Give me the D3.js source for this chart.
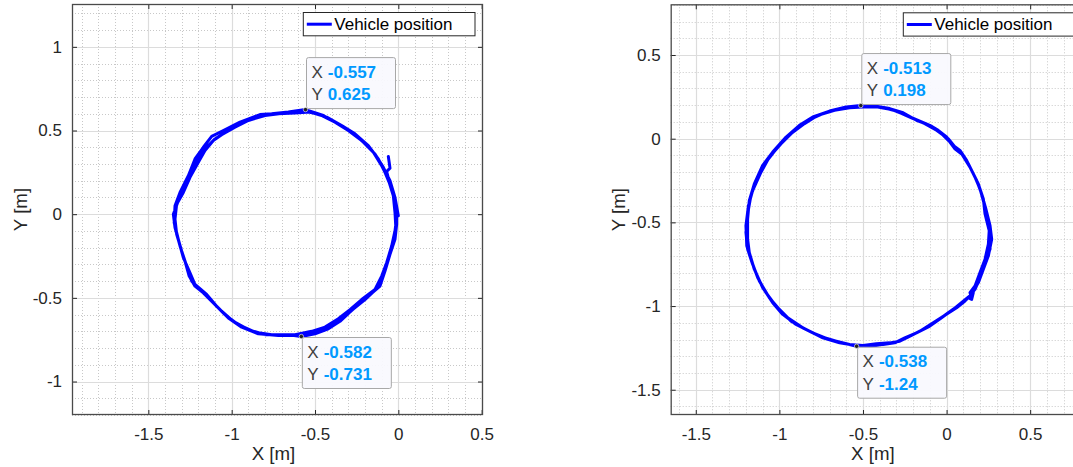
<!DOCTYPE html>
<html>
<head>
<meta charset="utf-8">
<script src="https://cdn.jsdelivr.net/npm/d3@7"></script>
<style>
  html, body { margin: 0; padding: 0; background: #fff; overflow: hidden; }
  svg { display: block; font-family: "Liberation Sans", Arial, Helvetica, sans-serif; }
</style>
</head>
<body>
<svg id="fig" width="1073" height="467"></svg>
<script>
// ---- Run 1: recorded vehicle positions [x, y] in metres ----
const run1Track = [
  [0.00, -0.01], [-0.02, 0.10], [-0.05, 0.20], [-0.09, 0.28], [-0.14, 0.36], [-0.21, 0.43],
  [-0.28, 0.49], [-0.36, 0.54], [-0.45, 0.59], [-0.557, 0.625], [-0.66, 0.61], [-0.76, 0.60],
  [-0.83, 0.595], [-0.95, 0.55], [-1.05, 0.50], [-1.12, 0.465], [-1.17, 0.40], [-1.22, 0.33],
  [-1.26, 0.23], [-1.31, 0.13], [-1.34, 0.05], [-1.345, -0.05], [-1.32, -0.15], [-1.29, -0.26],
  [-1.25, -0.35], [-1.22, -0.42], [-1.15, -0.48], [-1.09, -0.55], [-1.02, -0.62], [-0.94, -0.675],
  [-0.84, -0.715], [-0.72, -0.725], [-0.60, -0.725], [-0.48, -0.70], [-0.40, -0.665], [-0.32, -0.61],
  [-0.25, -0.55], [-0.18, -0.49], [-0.11, -0.43], [-0.08, -0.34], [-0.05, -0.24], [-0.02, -0.15],
  [-0.01, -0.06], [-0.01, 0.02],
  [-0.03, 0.12], [-0.06, 0.21], [-0.10, 0.29], [-0.15, 0.37], [-0.22, 0.44], [-0.30, 0.50],
  [-0.38, 0.55], [-0.47, 0.595], [-0.56, 0.615], [-0.68, 0.605], [-0.80, 0.59], [-0.90, 0.56],
  [-0.98, 0.52], [-1.06, 0.475], [-1.11, 0.44], [-1.16, 0.38], [-1.20, 0.31], [-1.25, 0.22],
  [-1.29, 0.13], [-1.33, 0.06], [-1.34, -0.03], [-1.33, -0.12], [-1.30, -0.22], [-1.27, -0.31],
  [-1.24, -0.40], [-1.19, -0.45], [-1.13, -0.51], [-1.06, -0.58], [-0.99, -0.64], [-0.90, -0.69],
  [-0.80, -0.72], [-0.66, -0.72], [-0.582, -0.731], [-0.50, -0.715], [-0.42, -0.685], [-0.35, -0.64],
  [-0.28, -0.575], [-0.20, -0.51], [-0.13, -0.445], [-0.09, -0.36], [-0.06, -0.27], [-0.03, -0.17],
  [-0.015, -0.08], [-0.02, 0.01],
  [-0.03, 0.11], [-0.055, 0.19], [-0.08, 0.25], [-0.12, 0.33], [-0.18, 0.41], [-0.26, 0.48],
  [-0.34, 0.53], [-0.43, 0.58], [-0.53, 0.61], [-0.62, 0.605], [-0.72, 0.60], [-0.84, 0.585],
  [-0.94, 0.545], [-1.04, 0.49], [-1.10, 0.45], [-1.15, 0.40], [-1.21, 0.32], [-1.24, 0.25],
  [-1.28, 0.16], [-1.32, 0.08], [-1.35, 0.00], [-1.34, -0.08], [-1.31, -0.19], [-1.28, -0.28],
  [-1.255, -0.37], [-1.22, -0.43], [-1.17, -0.47], [-1.11, -0.53], [-1.04, -0.60], [-0.96, -0.66],
  [-0.86, -0.705], [-0.76, -0.72], [-0.62, -0.72], [-0.52, -0.70], [-0.44, -0.675], [-0.36, -0.625],
  [-0.29, -0.57], [-0.22, -0.51], [-0.14, -0.45], [-0.10, -0.37], [-0.07, -0.29], [-0.04, -0.19],
  [-0.02, -0.10], [-0.01, -0.02], [-0.02, 0.08], [-0.05, 0.18], [-0.07, 0.255], [-0.05, 0.275],
  [-0.055, 0.31], [-0.06, 0.345]
];

// ---- Run 2: recorded vehicle positions [x, y] in metres ----
const run2Track = [
  [0.15, -0.955], [0.14, -0.92], [0.17, -0.88], [0.20, -0.80], [0.23, -0.72], [0.25, -0.63],
  [0.255, -0.55], [0.23, -0.45], [0.22, -0.36], [0.19, -0.27], [0.16, -0.21], [0.12, -0.13],
  [0.08, -0.07], [0.04, -0.04], [0.00, 0.01], [-0.05, 0.05], [-0.10, 0.08], [-0.18, 0.11],
  [-0.26, 0.155], [-0.34, 0.18], [-0.43, 0.195], [-0.513, 0.198], [-0.60, 0.19], [-0.70, 0.165],
  [-0.80, 0.13], [-0.88, 0.08], [-0.96, 0.01], [-1.04, -0.08], [-1.10, -0.16], [-1.15, -0.27],
  [-1.18, -0.37], [-1.19, -0.48], [-1.19, -0.60], [-1.18, -0.68], [-1.15, -0.78], [-1.10, -0.89],
  [-1.04, -0.98], [-0.98, -1.05], [-0.90, -1.11], [-0.80, -1.16], [-0.70, -1.20], [-0.60, -1.225],
  [-0.538, -1.24], [-0.46, -1.235], [-0.38, -1.23], [-0.31, -1.22], [-0.25, -1.19], [-0.18, -1.16],
  [-0.10, -1.12], [-0.03, -1.07], [0.04, -1.02], [0.10, -0.97], [0.15, -0.93],
  [0.19, -0.86], [0.22, -0.78], [0.25, -0.70], [0.27, -0.60], [0.26, -0.52], [0.235, -0.42],
  [0.21, -0.33], [0.18, -0.25], [0.14, -0.17], [0.09, -0.09], [0.05, -0.05], [0.01, 0.00],
  [-0.06, 0.05], [-0.13, 0.09], [-0.21, 0.125], [-0.30, 0.165], [-0.40, 0.19], [-0.48, 0.195],
  [-0.56, 0.19], [-0.65, 0.175], [-0.74, 0.15], [-0.83, 0.11], [-0.91, 0.05], [-0.99, -0.03],
  [-1.06, -0.11], [-1.11, -0.20], [-1.16, -0.31], [-1.185, -0.40], [-1.20, -0.52], [-1.195, -0.64],
  [-1.17, -0.72], [-1.13, -0.83], [-1.08, -0.92], [-1.02, -1.00], [-0.95, -1.07], [-0.86, -1.13],
  [-0.76, -1.18], [-0.66, -1.21], [-0.58, -1.23], [-0.50, -1.235], [-0.42, -1.225], [-0.34, -1.22],
  [-0.28, -1.21], [-0.21, -1.175], [-0.14, -1.14], [-0.06, -1.09], [0.01, -1.04], [0.08, -0.99],
  [0.13, -0.95], [0.17, -0.90],
  [0.20, -0.83], [0.23, -0.75], [0.26, -0.66], [0.265, -0.57], [0.245, -0.48], [0.225, -0.39],
  [0.20, -0.30], [0.17, -0.23], [0.13, -0.15], [0.10, -0.10], [0.05, -0.06], [0.02, -0.02],
  [-0.03, 0.03], [-0.09, 0.075], [-0.16, 0.105], [-0.24, 0.14], [-0.33, 0.175], [-0.42, 0.19],
  [-0.50, 0.19], [-0.58, 0.185], [-0.67, 0.17], [-0.77, 0.14], [-0.85, 0.09], [-0.93, 0.03],
  [-1.01, -0.05], [-1.08, -0.14], [-1.13, -0.23], [-1.17, -0.34], [-1.19, -0.45], [-1.20, -0.56],
  [-1.19, -0.66], [-1.16, -0.75], [-1.12, -0.85], [-1.06, -0.95], [-1.00, -1.02], [-0.93, -1.09],
  [-0.84, -1.14], [-0.74, -1.19], [-0.64, -1.22], [-0.55, -1.235], [-0.45, -1.24], [-0.36, -1.225],
  [-0.30, -1.215], [-0.23, -1.185], [-0.16, -1.15], [-0.08, -1.10], [-0.01, -1.055], [0.06, -1.01],
  [0.11, -0.97], [0.14, -0.94], [0.16, -0.92], [0.15, -0.96], [0.13, -0.95]
];

// ---- Axis limits and tick labels ----
const xTicks = [-1.5, -1, -0.5, 0, 0.5];
const run1YTicks = [-1, -0.5, 0, 0.5, 1];
const run2YTicks = [-1.5, -1, -0.5, 0, 0.5];
const run1XLim = [-1.958, 0.508];
const run1YLim = [-1.200, 1.256];
const run2XLim = [-1.650, 0.816];
const run2YLim = [-1.651, 0.803];

// ---- Data tips: [x, y, placement] ----
const run1Tips = [[-0.557, 0.625, "above"], [-0.582, -0.731, "below"]];
const run2Tips = [[-0.513, 0.198, "above"], [-0.538, -1.24, "below"]];

const legendLabel = "Vehicle position";
const tipValueFormat = v => d3.format(".3~g")(v).replace("\u2212", "-");

const svg = d3.select("#fig");
const AXIS_COLOR = "#262626";
const TRACK_WIDTH = 3;

function drawPanel(opts) {
  const { left, right, top, bottom, xLim, yLim, yTicks, track, tips, clipId, yLabelX } = opts;
  const x = d3.scaleLinear().domain(xLim).range([left, right]);
  const y = d3.scaleLinear().domain(yLim).range([bottom, top]);
  const g = svg.append("g");

  g.append("rect").attr("x", left).attr("y", top)
    .attr("width", right - left).attr("height", bottom - top).attr("fill", "#fff");

  // minor grid (dotted, every 0.1 m)
  const minorX = d3.range(Math.ceil(xLim[0] * 10), Math.floor(xLim[1] * 10) + 1)
    .filter(v => v % 5 !== 0).map(v => v / 10);
  const minorY = d3.range(Math.ceil(yLim[0] * 10), Math.floor(yLim[1] * 10) + 1)
    .filter(v => v % 5 !== 0).map(v => v / 10);
  const minor = g.append("g").attr("stroke", "#c8c8c8").attr("stroke-width", 1)
    .attr("stroke-dasharray", "1,2");
  minor.selectAll(".mx").data(minorX).join("line")
    .attr("x1", d => Math.round(x(d)) + 0.5).attr("x2", d => Math.round(x(d)) + 0.5)
    .attr("y1", top).attr("y2", bottom);
  minor.selectAll(".my").data(minorY).join("line")
    .attr("y1", d => Math.round(y(d)) + 0.5).attr("y2", d => Math.round(y(d)) + 0.5)
    .attr("x1", left).attr("x2", right);

  // major grid
  const major = g.append("g").attr("stroke", "#dcdcdc").attr("stroke-width", 1.2);
  major.selectAll(".gx").data(xTicks).join("line")
    .attr("x1", d => Math.round(x(d)) + 0.5).attr("x2", d => Math.round(x(d)) + 0.5)
    .attr("y1", top).attr("y2", bottom);
  major.selectAll(".gy").data(yTicks).join("line")
    .attr("y1", d => Math.round(y(d)) + 0.5).attr("y2", d => Math.round(y(d)) + 0.5)
    .attr("x1", left).attr("x2", right);

  // trajectory
  svg.append("clipPath").attr("id", clipId).append("rect")
    .attr("x", left).attr("y", top).attr("width", right - left).attr("height", bottom - top);
  const line = d3.line().x(d => x(d[0])).y(d => y(d[1]));
  g.append("path").datum(track)
    .attr("clip-path", `url(#${clipId})`)
    .attr("d", line)
    .attr("fill", "none").attr("stroke", "#0000ff").attr("stroke-width", TRACK_WIDTH)
    .attr("stroke-linejoin", "round").attr("stroke-linecap", "round");

  // axes with inward ticks on all four sides
  const fmt = d => (d === 0 ? "0" : String(d));
  const axB = g.append("g").attr("transform", `translate(0,${bottom})`)
    .call(d3.axisBottom(x).tickValues(xTicks).tickSize(-5).tickPadding(10).tickFormat(fmt));
  const axT = g.append("g").attr("transform", `translate(0,${top})`)
    .call(d3.axisTop(x).tickValues(xTicks).tickSize(-5).tickFormat(""));
  const axL = g.append("g").attr("transform", `translate(${left},0)`)
    .call(d3.axisLeft(y).tickValues(yTicks).tickSize(-5).tickPadding(10).tickFormat(fmt));
  const axR = g.append("g").attr("transform", `translate(${right},0)`)
    .call(d3.axisRight(y).tickValues(yTicks).tickSize(-5).tickFormat(""));
  [axB, axT, axL, axR].forEach(a => {
    a.select(".domain").remove();
    a.selectAll("line").attr("stroke", AXIS_COLOR).attr("stroke-width", 1);
    a.selectAll("text").attr("fill", AXIS_COLOR).attr("font-size", 17)
      .attr("font-family", "Liberation Sans, Arial, sans-serif");
  });
  axB.selectAll("text").attr("dy", "0.9em");

  g.append("rect").attr("x", left + 0.5).attr("y", top + 0.5)
    .attr("width", right - left - 1).attr("height", bottom - top - 1)
    .attr("fill", "none").attr("stroke", "#4a4a4a").attr("stroke-width", 1.3);

  // axis labels
  g.append("text").attr("x", (left + right) / 2 - 4).attr("y", 460)
    .attr("text-anchor", "middle").attr("font-size", 18.7).attr("fill", AXIS_COLOR)
    .text("X [m]");
  g.append("text").attr("transform", `translate(${yLabelX},${(top + bottom) / 2}) rotate(-90)`)
    .attr("text-anchor", "middle").attr("dominant-baseline", "central")
    .attr("font-size", 18.7).attr("fill", AXIS_COLOR).text("Y [m]");

  // legend
  const lg = g.append("g").attr("transform", `translate(${right - 8 - 171.7},${top + 8.5})`);
  lg.append("rect").attr("width", 171.7).attr("height", 23.3)
    .attr("fill", "#fff").attr("stroke", AXIS_COLOR).attr("stroke-width", 1);
  lg.append("line").attr("x1", 3.5).attr("x2", 28.5).attr("y1", 11.7).attr("y2", 11.7)
    .attr("stroke", "#0000ff").attr("stroke-width", TRACK_WIDTH);
  lg.append("text").attr("x", 31).attr("y", 11.7).attr("dominant-baseline", "central")
    .attr("font-size", 17).attr("fill", "#000").text(legendLabel);

  // data tips
  const W = 89, H = 51;
  tips.forEach(([tx, ty, where]) => {
    const px = x(tx), py = y(ty);
    const bx = px + 1, by = where === "above" ? py - H - 1 : py + 1;
    const tg = g.append("g");
    tg.append("rect").attr("x", bx).attr("y", by).attr("width", W).attr("height", H)
      .attr("rx", 2).attr("fill", "#f9f9fe").attr("fill-opacity", 0.95)
      .attr("stroke", "#a8a8a8").attr("stroke-width", 1);
    [["X", tx], ["Y", ty]].forEach(([name, v], i) => {
      const t = tg.append("text").attr("x", bx + 5).attr("y", by + 14 + i * 22.3)
        .attr("dominant-baseline", "central").attr("font-size", 17);
      t.append("tspan").attr("fill", "#404040").text(name);
      t.append("tspan").attr("dx", 5).attr("fill", "#0099ff").attr("font-weight", "bold")
        .text(tipValueFormat(v));
    });
    tg.append("circle").attr("cx", px).attr("cy", py).attr("r", 2.2)
      .attr("fill", "#222").attr("stroke", "#fff").attr("stroke-width", 0.6);
  });
}

drawPanel({ left: 72, right: 483, top: 4, bottom: 415, xLim: run1XLim, yLim: run1YLim,
  yTicks: run1YTicks, track: run1Track, tips: run1Tips, clipId: "clip1", yLabelX: 20 });
drawPanel({ left: 670.7, right: 1083, top: 4.3, bottom: 415, xLim: run2XLim, yLim: run2YLim,
  yTicks: run2YTicks, track: run2Track, tips: run2Tips, clipId: "clip2", yLabelX: 618 });
</script>
</body>
</html>
